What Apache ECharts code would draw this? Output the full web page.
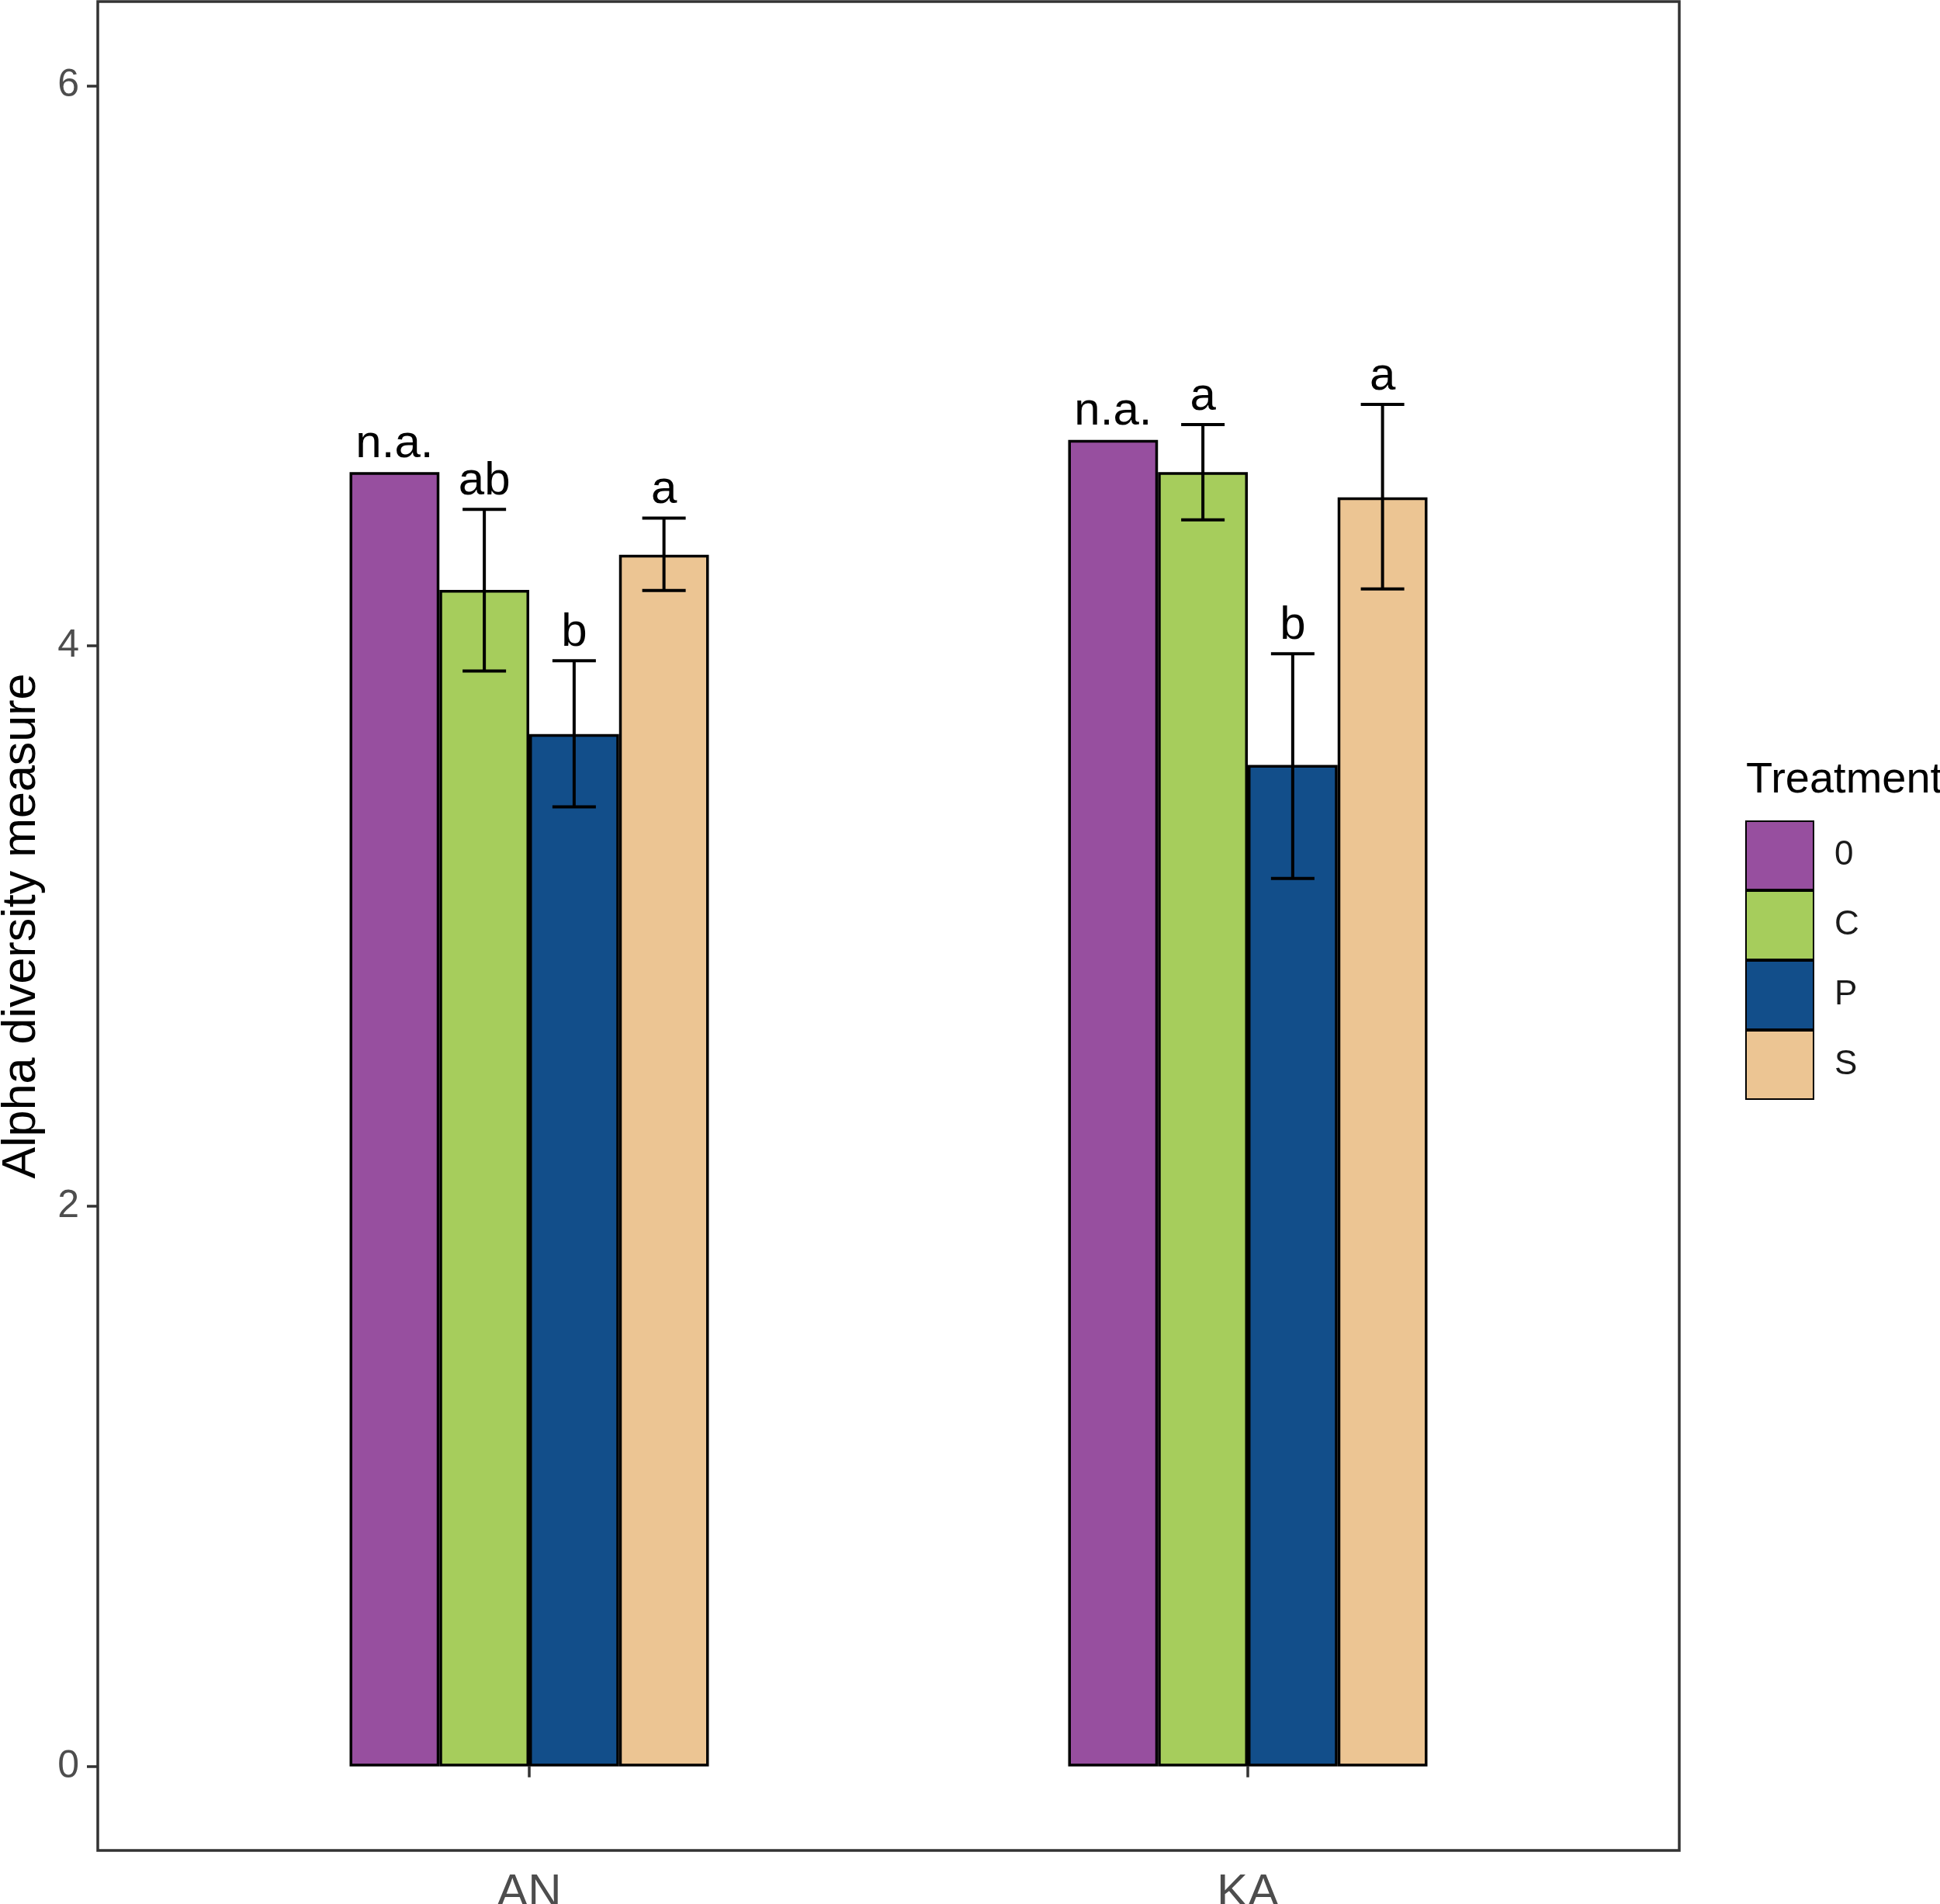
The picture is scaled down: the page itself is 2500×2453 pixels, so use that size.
<!DOCTYPE html>
<html>
<head>
<meta charset="utf-8">
<script src="https://cdn.jsdelivr.net/npm/echarts@6/dist/echarts.min.js"></script>
<style>
html,body{margin:0;padding:0;background:#fff;}
#chart{width:2500px;height:2453px;}
</style>
</head>
<body>
<div id="chart"></div>
<script>
const sites = ['AN', 'KA'];
const treatments = ['0', 'C', 'P', 'S'];
const colors = ['#974F9F', '#A6CD5C', '#124E8A', '#ECC593'];
// mean values per treatment, [AN, KA]
const mean0 = [4.62, 4.735];
const meanC = [4.20, 4.62];
const meanP = [3.685, 3.575];
const meanS = [4.325, 4.53];
// error bar lower / upper, [AN, KA]
const lowC = [3.91, 4.45];
const highC = [4.487, 4.79];
const lowP = [3.425, 3.17];
const highP = [3.947, 3.972];
const lowS = [4.198, 4.203];
const highS = [4.456, 4.862];
// significance letters, [AN, KA]
const letters0 = ['n.a.', 'n.a.'];
const lettersC = ['ab', 'a'];
const lettersP = ['b', 'b'];
const lettersS = ['a', 'a'];
const yTicks = [0, 2, 4, 6];

const FONT = '"Liberation Sans", Arial, Helvetica, sans-serif';
const means = [mean0, meanC, meanP, meanS];
const lows = [null, lowC, lowP, lowS];
const highs = [null, highC, highP, highS];
const letters = [letters0, lettersC, lettersP, lettersS];

const errData = [];
const labelData = [];
for (let i = 0; i < treatments.length; i++) {
  for (let j = 0; j < sites.length; j++) {
    if (lows[i]) errData.push([j, lows[i][j], highs[i][j], i]);
    const top = highs[i] ? Math.max(highs[i][j], means[i][j]) : means[i][j];
    labelData.push([j, top, i, letters[i][j]]);
  }
}

const chart = echarts.init(document.getElementById('chart'), null, {renderer: 'canvas'});

function barOffset(api, i) {
  const band = api.size([1, 0])[0];
  return (i - 1.5) * band / 8;
}

const series = treatments.map((t, i) => ({
  name: t,
  type: 'bar',
  xAxisIndex: 1,
  yAxisIndex: 1,
  data: means[i],
  barGap: '0%',
  barCategoryGap: '50%',
  itemStyle: {color: colors[i], borderColor: '#000', borderWidth: 3.5},
  emphasis: {disabled: true},
  z: 2
}));

series.push({
  type: 'custom',
  xAxisIndex: 1,
  yAxisIndex: 1,
  data: errData,
  z: 5,
  renderItem: function (params, api) {
    const j = api.value(0), lo = api.value(1), hi = api.value(2), i = api.value(3);
    const pLo = api.coord([j, lo]);
    const pHi = api.coord([j, hi]);
    const x = pLo[0] + barOffset(api, i);
    const cw = 28;
    const st = {stroke: '#000', lineWidth: 4};
    return {
      type: 'group',
      children: [
        {type: 'line', shape: {x1: x, y1: pLo[1], x2: x, y2: pHi[1]}, style: st},
        {type: 'line', shape: {x1: x - cw, y1: pLo[1], x2: x + cw, y2: pLo[1]}, style: st},
        {type: 'line', shape: {x1: x - cw, y1: pHi[1], x2: x + cw, y2: pHi[1]}, style: st}
      ]
    };
  }
});

series.push({
  type: 'custom',
  xAxisIndex: 1,
  yAxisIndex: 1,
  data: labelData,
  z: 6,
  renderItem: function (params, api) {
    const j = api.value(0), top = api.value(1), i = api.value(2);
    const txt = labelData[params.dataIndex][3];
    const p = api.coord([j, top]);
    const x = p[0] + barOffset(api, i);
    return {
      type: 'text',
      style: {
        text: txt, x: x, y: p[1] - 6,
        align: 'center', verticalAlign: 'bottom',
        font: '60px ' + FONT, fill: '#000'
      }
    };
  }
});

const option = {
  animation: false,
  backgroundColor: '#ffffff',
  title: {
    text: 'Treatment',
    left: 2250,
    top: 978,
    padding: 0,
    textStyle: {fontFamily: FONT, fontSize: 56, fontWeight: 'normal', color: '#000'}
  },
  legend: {
    data: treatments,
    orient: 'vertical',
    left: 2249,
    top: 1057,
    padding: 0,
    itemGap: 0,
    itemWidth: 87,
    itemHeight: 88,
    icon: 'rect',
    selectedMode: false,
    textStyle: {fontFamily: FONT, fontSize: 44, color: '#1a1a1a', padding: [0, 0, 0, 22]}
  },
  grid: [
    {left: 126, right: 336, top: 2, bottom: 69, show: true, borderColor: '#333', borderWidth: 3.5,
     backgroundColor: 'transparent', containLabel: false, outerBoundsMode: 'none'},
    {left: 219, right: 429, top: 2, bottom: 69, containLabel: false, outerBoundsMode: 'none'}
  ],
  xAxis: [
    {gridIndex: 0, type: 'value', min: 0, max: 1, show: false},
    {
      gridIndex: 1, type: 'category', data: sites,
      axisLine: {show: false},
      axisTick: {show: true, alignWithLabel: true, length: 14, lineStyle: {color: '#333', width: 3.5}},
      axisLabel: {fontFamily: FONT, fontSize: 60, color: '#4D4D4D', margin: 25}
    }
  ],
  yAxis: [
    {
      gridIndex: 0, type: 'value', min: -0.3, max: 6.3,
      name: 'Alpha diversity measure',
      nameLocation: 'middle', nameRotate: 90, nameGap: 67,
      nameTextStyle: {fontFamily: FONT, fontSize: 61, color: '#000'},
      axisLine: {show: false},
      splitLine: {show: false},
      axisTick: {show: true, length: 14, customValues: yTicks, lineStyle: {color: '#333', width: 3.5}},
      axisLabel: {customValues: yTicks, fontFamily: FONT, fontSize: 50, color: '#4D4D4D', margin: 24}
    },
    {gridIndex: 1, type: 'value', min: -0.3, max: 6.3, show: false}
  ],
  series: series
};
chart.setOption(option);
</script>
</body>
</html>
